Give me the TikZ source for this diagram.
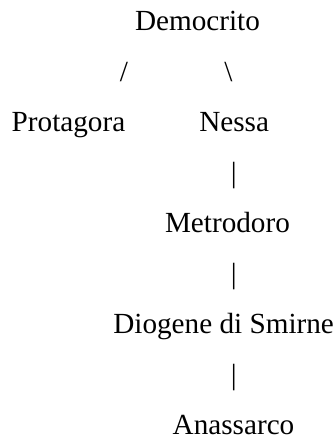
\documentclass[tikz,border=0pt]{standalone}
\usepackage{fontspec}
\setmainfont{Liberation Serif}
\begin{document}
\begin{tikzpicture}[x=1pt,y=-1pt,
  every node/.style={inner sep=0pt, outer sep=0pt, font=\fontsize{29.2}{35}\selectfont, text=black},
  person/.style={anchor=base west},
  linkglyph/.style={anchor=base}]
\useasboundingbox (0,0) rectangle (336,441);
\node[person] (democrito) at (135,30.7) {Democrito};
\node[linkglyph] (sl) at (124,81.2) {/};
\node[linkglyph] (sr) at (228.5,81.2) {\textbackslash};
\node[person] (protagora) at (11.7,131.7) {Protagora};
\node[person] (nessa) at (199.3,131.7) {Nessa};
\node[linkglyph] (b1) at (233.7,182.2) {|};
\node[person] (metrodoro) at (165,232.7) {Metrodoro};
\node[linkglyph] (b2) at (233.7,283.2) {|};
\node[person] (diogene) at (113.3,333.7) {Diogene di Smirne};
\node[linkglyph] (b3) at (233.7,384.2) {|};
\node[person] (anassarco) at (172.7,434.7) {Anassarco};
\end{tikzpicture}
\end{document}
